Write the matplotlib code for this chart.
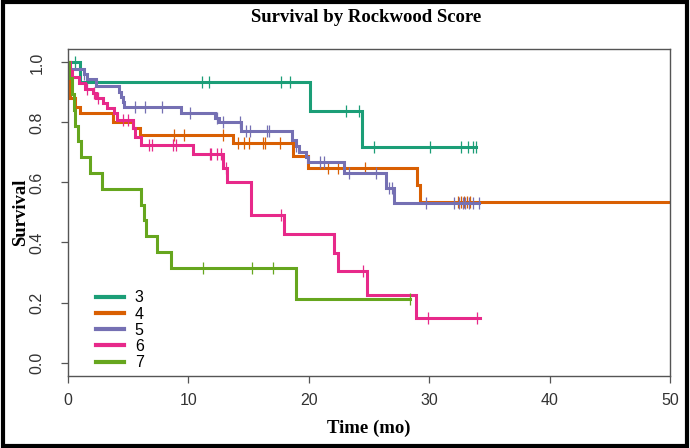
"""
plot.py  —  Kaplan-Meier style survival curves by Rockwood score.
"""

import numpy as np
import matplotlib
matplotlib.use("Agg")
import matplotlib.pyplot as plt
from matplotlib.lines import Line2D
from matplotlib.patches import Rectangle

# ---- data (step times, survival after each step, censor times)
groups = ["3", "4", "5", "6", "7"]
colors = ["#1B9E77", "#D95F02", "#7570B3", "#E7298A", "#66A61E"]

t3 = [1.0, 20.1, 24.4]
s3 = [0.934, 0.839, 0.718]
c3 = [0.6, 11.1, 11.7, 17.7, 18.4, 23.1, 24.2, 25.4, 30.1, 32.6, 33.2, 33.6, 33.9]
end3 = 33.9

t4 = [0.05, 0.15, 0.6, 1.0, 3.7, 5.4, 6.0, 13.7, 18.7, 19.9, 29.0, 29.2]
s4 = [0.93, 0.88, 0.853, 0.83, 0.80, 0.78, 0.758, 0.73, 0.688, 0.648, 0.59, 0.535]
c4 = [8.8, 9.6, 12.9, 14.1, 14.6, 15.0, 16.2, 16.4, 17.6, 21.6, 22.4, 24.7,
      32.4, 32.6, 32.9, 33.1, 33.4]
end4 = 50.0

t5 = [0.17, 1.3, 1.6, 2.3, 4.2, 4.4, 4.55, 4.65, 9.4, 12.2, 12.5, 14.4,
      18.6, 18.9, 19.2, 19.8, 19.9, 22.9, 26.4, 27.1]
s5 = [0.979, 0.963, 0.945, 0.92, 0.903, 0.886, 0.868, 0.85, 0.83, 0.815, 0.80, 0.771,
      0.741, 0.72, 0.70, 0.685, 0.668, 0.632, 0.581, 0.533]
c5 = [1.3, 5.6, 6.4, 7.8, 10.1, 12.35, 12.9, 14.3, 14.8, 15.1, 16.5, 16.7, 18.9,
      20.9, 21.3, 23.3, 25.6, 26.7, 26.9, 29.7, 32.1, 32.5, 32.8, 33.0, 33.3, 33.6, 34.1]
end5 = 34.1

t6 = [0.2, 0.3, 0.95, 1.45, 2.1, 2.3, 2.9, 3.2, 3.8, 4.1, 5.4, 5.6, 6.1, 10.4,
      12.9, 13.2, 15.2, 17.9, 22.1, 22.4, 24.8, 28.9]
s6 = [0.971, 0.952, 0.932, 0.911, 0.898, 0.881, 0.864, 0.848, 0.83, 0.808, 0.78, 0.752,
      0.724, 0.694, 0.648, 0.603, 0.49, 0.429, 0.364, 0.305, 0.224, 0.147]
c6 = [1.55, 2.2, 2.5, 4.6, 5.0, 6.7, 6.95, 8.7, 9.0, 11.8, 11.9, 12.35, 12.7, 13.1,
      17.7, 24.5, 29.9, 34.0]
end6 = 34.2

t7 = [0.1, 0.3, 0.5, 0.6, 0.8, 1.1, 1.8, 2.8, 6.1, 6.3, 6.45, 7.4, 8.55, 18.9]
s7 = [0.947, 0.895, 0.842, 0.789, 0.737, 0.684, 0.632, 0.579, 0.526, 0.474, 0.421,
      0.368, 0.316, 0.211]
c7 = [11.2, 15.3, 17.0, 28.4]
end7 = 28.4

curves = [(t3, s3, c3, end3), (t4, s4, c4, end4), (t5, s5, c5, end5),
          (t6, s6, c6, end6), (t7, s7, c7, end7)]

xticks = [0, 10, 20, 30, 40, 50]
yticks = [0.0, 0.2, 0.4, 0.6, 0.8, 1.0]

SERIF = ["Liberation Serif", "DejaVu Serif"]
SANS = ["Liberation Sans Narrow", "Liberation Sans", "DejaVu Sans"]

fig = plt.figure(figsize=(6.9, 4.48), dpi=100)
ax = fig.add_axes([68 / 690, 1 - 376 / 448, 602 / 690, 327 / 448])

for (t, s, c, end), col in zip(curves, colors):
    times = np.array([0.0] + t + [end])
    surv = np.array([1.0] + s + [s[-1]])
    ax.step(times, surv, where="post", color=col, lw=2.2, solid_joinstyle="miter")
    idx = np.searchsorted(times, c, side="right") - 1
    ax.plot(c, surv[idx], ls="none", marker="|", ms=8, mew=0.9, color=col)

ax.set_xlim(0, 50)
ax.set_ylim(-0.045, 1.045)
ax.set_xticks(xticks)
ax.set_yticks(yticks)
ax.set_xticklabels([str(v) for v in xticks], family=SANS, fontsize=11.5, color="#333333")
ax.set_yticklabels([f"{v:.1f}" for v in yticks], family=SANS, fontsize=11.5,
                   color="#333333", rotation=90, va="center")
ax.tick_params(direction="out", length=5, width=0.9, color="#555555")
ax.tick_params(axis="x", pad=7)
ax.tick_params(axis="y", pad=12)
for sp in ax.spines.values():
    sp.set_color("#555555")
    sp.set_linewidth(1.0)

ax.set_xlabel("Time (mo)", family=SERIF, fontweight="bold", fontsize=13.5, labelpad=9)
ax.set_ylabel("Survival", family=SERIF, fontweight="bold", fontsize=13.5, labelpad=0)
fig.text(0.53, 0.962, "Survival by Rockwood Score", family=SERIF, fontweight="bold",
         fontsize=13.5, ha="center", va="center")

handles = [Line2D([], [], color=col, lw=3) for col in colors]
ax.legend(handles, groups, loc="lower left", bbox_to_anchor=(0.03, -0.012),
          borderaxespad=0.2, frameon=False, handlelength=1.75, handletextpad=0.7,
          labelspacing=0.08, prop={"family": SANS, "size": 11.5})

# outer black frame around the whole picture
fig.patches.append(Rectangle((0.004, 0.005), 0.992, 0.99, transform=fig.transFigure,
                             fill=False, edgecolor="black", lw=3))

fig.savefig("out.png", dpi=100)
